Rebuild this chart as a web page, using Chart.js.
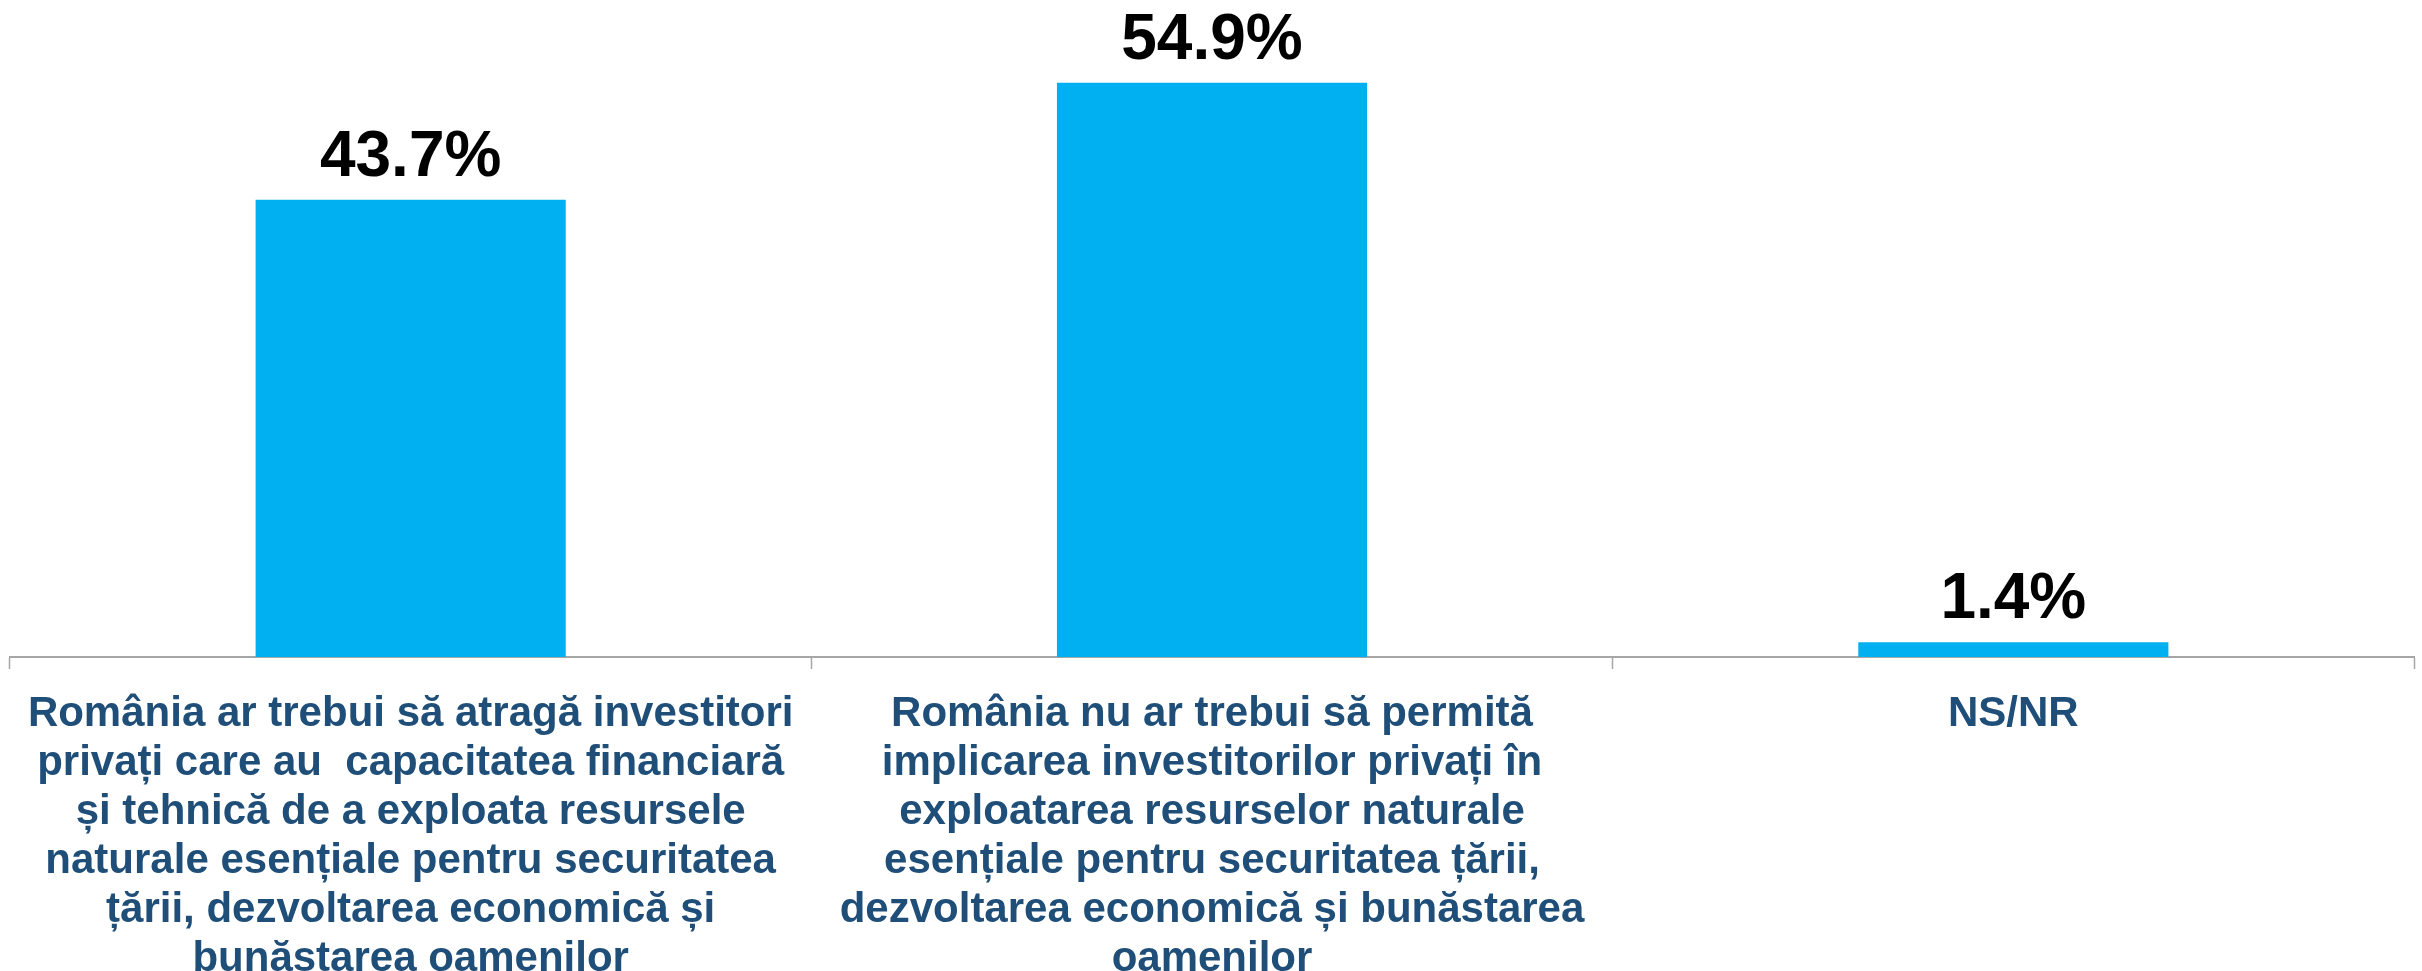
<!DOCTYPE html>
<html lang="ro">
<head>
<meta charset="utf-8">
<title>Investitori privați și resurse naturale</title>
<script src="https://cdn.jsdelivr.net/npm/chart.js@4.4.1/dist/chart.umd.min.js"></script>
<style>
  html, body { margin: 0; padding: 0; background: #ffffff; }
  #wrap { width: 2422px; height: 971px; position: relative; }
</style>
</head>
<body>
<div id="wrap"><canvas id="chart"></canvas></div>
<script>
/* ── Data ─────────────────────────────────────── */
const categories = [
  ['România ar trebui să atragă investitori',
   'privați care au  capacitatea financiară',
   'și tehnică de a exploata resursele',
   'naturale esențiale pentru securitatea',
   'țării, dezvoltarea economică și',
   'bunăstarea oamenilor'],
  ['România nu ar trebui să permită',
   'implicarea investitorilor privați în',
   'exploatarea resurselor naturale',
   'esențiale pentru securitatea țării,',
   'dezvoltarea economică și bunăstarea',
   'oamenilor'],
  ['NS/NR'],
];
const values = [43.7, 54.9, 1.4];

/* ── Colours ──────────────────────────────────── */
const C_BAR   = '#00B0F0';
const C_LABEL = '#1F4E79';
const C_AXIS  = '#A6A6A6';
const FONT    = "'Liberation Sans', Arial, sans-serif";

/* ── Value labels above bars ──────────────────── */
const valueLabels = {
  id: 'valueLabels',
  afterDatasetsDraw(chart) {
    const { ctx, data } = chart;
    ctx.save();
    ctx.font = 'bold 64px ' + FONT;
    ctx.fillStyle = '#000000';
    ctx.textAlign = 'center';
    ctx.textBaseline = 'alphabetic';
    chart.getDatasetMeta(0).data.forEach((bar, i) => {
      ctx.fillText(data.datasets[0].data[i].toFixed(1) + '%', bar.x, bar.y - 24);
    });
    ctx.restore();
  },
};

new Chart(document.getElementById('chart'), {
  type: 'bar',
  data: {
    labels: categories,
    datasets: [{
      data: values,
      backgroundColor: C_BAR,
      borderWidth: 0,
      categoryPercentage: 0.387,
      barPercentage: 1,
    }],
  },
  options: {
    responsive: true,
    maintainAspectRatio: false,
    animation: false,
    layout: { padding: { top: 0, left: 10, right: 8, bottom: 0 } },
    plugins: {
      legend: { display: false },
      tooltip: { enabled: false },
    },
    scales: {
      x: {
        border: { display: true, color: C_AXIS, width: 2 },
        grid: {
          display: true,
          drawOnChartArea: false,
          drawTicks: true,
          tickLength: 12,
          tickColor: C_AXIS,
          tickWidth: 1.5,
        },
        ticks: {
          color: C_LABEL,
          font: { family: FONT, size: 42, weight: 'bold', lineHeight: 1.165 },
          padding: 21,
          maxRotation: 0,
          autoSkip: false,
        },
        afterFit(scale) { scale.height = 314; },
      },
      y: {
        display: false,
        min: 0,
        max: 62.8,
      },
    },
  },
  plugins: [valueLabels],
});
</script>
</body>
</html>
